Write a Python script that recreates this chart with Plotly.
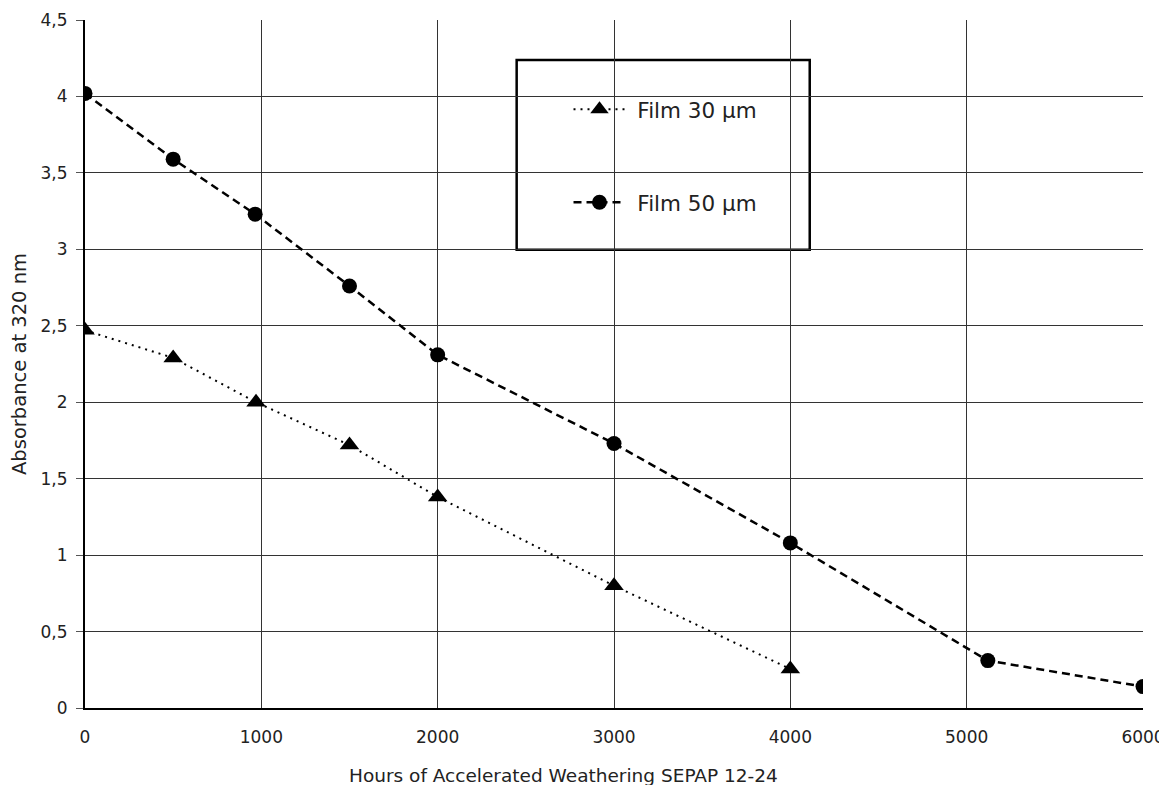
import plotly.graph_objects as go

hours_30 = [0, 500, 970, 1500, 2000, 3000, 4000]
abs_30 = [2.47, 2.29, 2.00, 1.72, 1.38, 0.80, 0.255]
hours_50 = [0, 500, 965, 1500, 2000, 3000, 4000, 5120, 6000]
abs_50 = [4.02, 3.59, 3.23, 2.76, 2.31, 1.73, 1.08, 0.31, 0.14]
x_ticks = [0, 1000, 2000, 3000, 4000, 5000, 6000]
y_ticks = [0, 0.5, 1, 1.5, 2, 2.5, 3, 3.5, 4, 4.5]
y_tick_labels = ["0", "0,5", "1", "1,5", "2", "2,5", "3", "3,5", "4", "4,5"]
x_title = "Hours of Accelerated Weathering SEPAP 12-24"
y_title = "Absorbance at 320 nm"

FONT = "DejaVu Sans"
TXT = "#222"

fig = go.Figure()
fig.add_trace(go.Scatter(
    x=hours_30, y=abs_30, name="\u00a0Film 30 µm", mode="lines+markers",
    line=dict(color="black", width=2, dash="2px,5px"),
    marker=dict(symbol="triangle-up", size=17, color="black"),
    legendgroup="a",
))
fig.add_trace(go.Scatter(
    x=hours_50, y=abs_50, name="\u00a0Film 50 µm", mode="lines+markers",
    line=dict(color="black", width=2.5, dash="8px,5px"),
    marker=dict(symbol="circle", size=15, color="black"),
    legendgroup="b",
))

# the html page adds an 8px body margin; compensate so the plot lands in place
fig.update_layout(
    width=1159, height=777,
    margin=dict(l=77, r=24, t=12, b=77),
    paper_bgcolor="white", plot_bgcolor="white",
    font=dict(family=FONT, size=17, color=TXT),
    legend=dict(
        x=0.457, y=0.900, xanchor="left", yanchor="top",
        bgcolor="rgba(0,0,0,0)", borderwidth=0,
        tracegroupgap=62, font=dict(size=21.5, family=FONT, color=TXT),
        itemwidth=52,
    ),
    shapes=[dict(
        type="rect", xref="paper", yref="paper",
        x0=0.408, x1=0.685, y0=0.666, y1=0.942,
        line=dict(color="black", width=2.5), fillcolor="white", layer="below",
    )],
    annotations=[dict(
        text=x_title, xref="paper", yref="paper", x=0.4527, y=0,
        xanchor="center", yanchor="middle", yshift=-67, showarrow=False,
        font=dict(size=18.5, family=FONT, color=TXT),
    )],
    xaxis=dict(
        range=[0, 6000], tickvals=x_ticks, ticktext=[str(v) for v in x_ticks],
        showgrid=True, gridcolor="#333", gridwidth=1,
        showline=True, linecolor="black", linewidth=2,
        ticks="", ticklabelstandoff=13, automargin=False,
        tickfont=dict(size=17, family=FONT, color=TXT),
        zeroline=False,
    ),
    yaxis=dict(
        range=[0, 4.5], tickvals=y_ticks, ticktext=y_tick_labels,
        showgrid=True, gridcolor="#333", gridwidth=1,
        showline=True, linecolor="black", linewidth=2,
        ticks="outside", ticklen=7, tickcolor="#555", ticklabelstandoff=5,
        automargin=False,
        tickfont=dict(size=17, family=FONT, color=TXT),
        title=dict(text=y_title, standoff=12,
                   font=dict(size=19.5, family=FONT, color=TXT)),
        zeroline=False,
    ),
)
fig.write_html("out.html")
